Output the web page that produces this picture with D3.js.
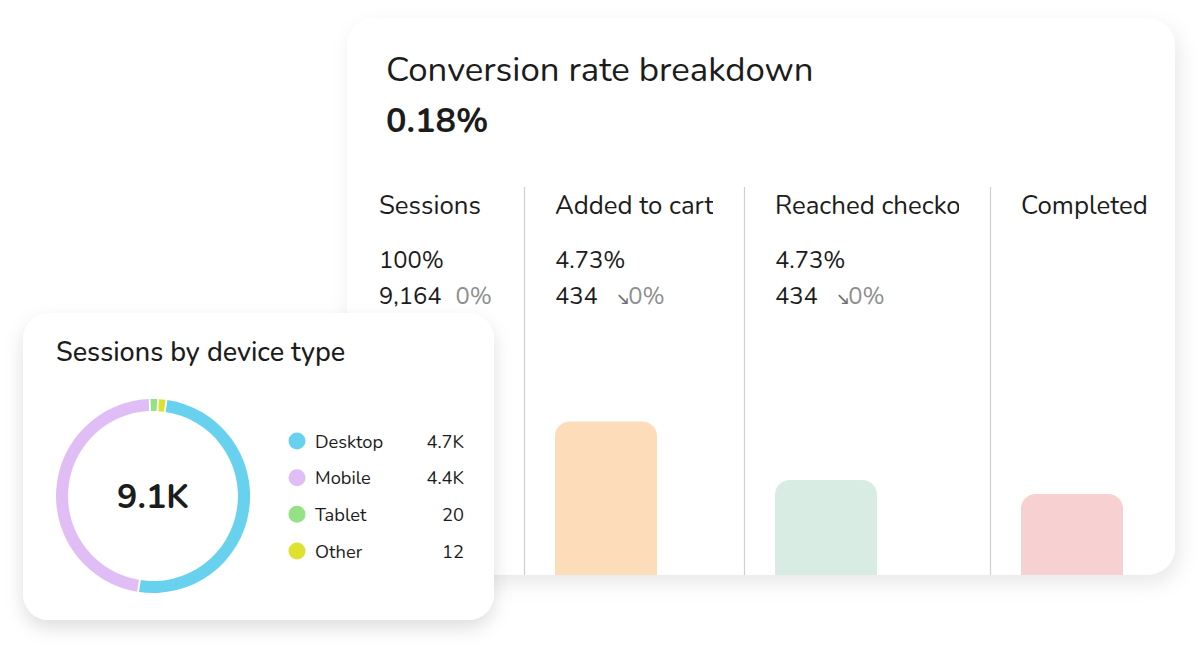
<!DOCTYPE html>
<html>
<head>
<meta charset="utf-8">
<script src="https://cdn.jsdelivr.net/npm/d3@7/dist/d3.min.js"></script>
<style>
  html, body { margin: 0; padding: 0; background: #ffffff; }
  svg { display: block; }
  text { font-family: "Nunito", "Lato", "Open Sans", sans-serif; fill: #1c1c1c; }
</style>
</head>
<body>
<svg id="chart" width="1200" height="667"></svg>
<script>
// ---------- data ----------
const funnelTitle = "Conversion rate breakdown";
const funnelTotal = "0.18%";
const funnelSteps = ["Sessions", "Added to cart", "Reached checkout", "Completed"];
const funnelRates = ["100%", "4.73%", "4.73%", null];
const funnelCounts = ["9,164", "434", "434", null];
const funnelChange = ["0%", "0%", "0%", null];
const funnelChangeArrow = [false, true, true, false];
const funnelBarValues = [100, 64, 39.6, 33.8];
const funnelBarColors = ["#fde0c0", "#fddcba", "#d8ece3", "#f7d0d1"];

const deviceTitle = "Sessions by device type";
const deviceCenter = "9.1K";
const devices = ["Desktop", "Mobile", "Tablet", "Other"];
const deviceSessions = [4720, 4412, 20, 12];
const deviceLabels = ["4.7K", "4.4K", "20", "12"];
const deviceColors = ["#68d2ee", "#e0bdf4", "#95e186", "#dde22e"];
const donutOrder = [2, 3, 0, 1]; // drawing order clockwise from top

// ---------- setup ----------
const svg = d3.select("#chart");
const defs = svg.append("defs");

const sh1 = defs.append("filter").attr("id", "shadowMain")
  .attr("x", "-10%").attr("y", "-10%").attr("width", "125%").attr("height", "130%");
sh1.append("feDropShadow").attr("dx", 4).attr("dy", 8).attr("stdDeviation", 10)
  .attr("flood-color", "#000").attr("flood-opacity", 0.09);

const sh2 = defs.append("filter").attr("id", "shadowSmall")
  .attr("x", "-15%").attr("y", "-15%").attr("width", "135%").attr("height", "140%");
sh2.append("feDropShadow").attr("dx", 0).attr("dy", 8).attr("stdDeviation", 9)
  .attr("flood-color", "#000").attr("flood-opacity", 0.13);

// ---------- main card ----------
const card = { x: 347, y: 18, w: 828, h: 557, r: 28 };
const colEdges = [348, 524, 744, 990, 1175];
const pad = 31;

defs.append("clipPath").attr("id", "mainClip")
  .append("rect").attr("x", card.x).attr("y", card.y).attr("width", card.w).attr("height", card.h)
  .attr("rx", card.r);

svg.append("rect").attr("x", card.x).attr("y", card.y).attr("width", card.w).attr("height", card.h)
  .attr("rx", card.r).attr("fill", "#fff").attr("filter", "url(#shadowMain)");

const main = svg.append("g").attr("clip-path", "url(#mainClip)");

main.append("text").attr("x", 386).attr("y", 81).attr("font-size", 34.8)
  .text(funnelTitle);
main.append("text").attr("x", 386).attr("y", 132).attr("font-size", 34.2)
  .attr("font-weight", 700).text(funnelTotal);

// column dividers
main.selectAll("line.div").data(colEdges.slice(1, 4)).join("line")
  .attr("class", "div")
  .attr("x1", d => d + 0.5).attr("x2", d => d + 0.5)
  .attr("y1", 187).attr("y2", card.y + card.h)
  .attr("stroke", "#cfcfcf").attr("stroke-width", 1.2);

// bars
const y = d3.scaleLinear().domain([0, 100]).range([card.y + card.h, 335]);
const barW = 102, br = 15;
function topRounded(x, yTop, w, yBottom, r) {
  const p = d3.path();
  p.moveTo(x, yBottom);
  p.lineTo(x, yTop + r);
  p.arcTo(x, yTop, x + r, yTop, r);
  p.lineTo(x + w - r, yTop);
  p.arcTo(x + w, yTop, x + w, yTop + r, r);
  p.lineTo(x + w, yBottom);
  p.closePath();
  return p.toString();
}
main.selectAll("path.bar").data(funnelBarValues).join("path")
  .attr("class", "bar")
  .attr("d", (d, i) => topRounded(colEdges[i] + pad, y(d), barW, y(0), br))
  .attr("fill", (d, i) => funnelBarColors[i]);

// column texts
funnelSteps.forEach((s, i) => {
  const x0 = colEdges[i] + pad;
  const isLast = i === funnelSteps.length - 1;
  const cw = isLast ? 200 : colEdges[i + 1] - colEdges[i] - 2 * pad;
  const cid = "colclip" + i;
  defs.append("clipPath").attr("id", cid)
    .append("rect").attr("x", x0 - 2).attr("y", 180).attr("width", cw + 2).attr("height", 140);
  const g = main.append("g").attr("clip-path", `url(#${cid})`);
  g.append("text").attr("x", x0).attr("y", 214).attr("font-size", 25.8).text(s);
  if (funnelRates[i]) {
    g.append("text").attr("x", x0).attr("y", 268).attr("font-size", 23.8).text(funnelRates[i]);
  }
  if (funnelCounts[i]) {
    const t = g.append("text").attr("x", x0).attr("y", 304).attr("font-size", 23.8);
    t.append("tspan").text(funnelCounts[i]);
    if (funnelChangeArrow[i]) {
      t.append("tspan").attr("dx", 20).attr("font-size", 14).attr("font-weight", 700)
        .attr("fill", "#6e6e6e").text("↘");
      t.append("tspan").attr("dx", 0).attr("fill", "#8e8e8e").text(funnelChange[i]);
    } else {
      t.append("tspan").attr("dx", 14).attr("fill", "#8e8e8e").text(funnelChange[i]);
    }
  }
});

// ---------- device card ----------
const sc = { x: 23, y: 313, w: 471, h: 307, r: 26 };
svg.append("rect").attr("x", sc.x).attr("y", sc.y).attr("width", sc.w).attr("height", sc.h)
  .attr("rx", sc.r).attr("fill", "#fff").attr("filter", "url(#shadowSmall)");

svg.append("text").attr("x", 56).attr("y", 361).attr("font-size", 27)
  .attr("font-weight", 500).text(deviceTitle);

const total = d3.sum(deviceSessions);
const minShare = 0.012;
const pieData = donutOrder.map(i => ({ i, v: Math.max(deviceSessions[i], total * minShare) }));
const pie = d3.pie().sort(null).value(d => d.v)
  .startAngle(-0.035).endAngle(-0.035 + 2 * Math.PI).padAngle(0.014);
const arc = d3.arc().innerRadius(85).outerRadius(97);

const donut = svg.append("g").attr("transform", "translate(153,496)");
donut.selectAll("path").data(pie(pieData)).join("path")
  .attr("d", arc).attr("fill", d => deviceColors[d.data.i]);
donut.append("text").attr("text-anchor", "middle").attr("y", 12).attr("font-size", 34)
  .attr("font-weight", 700).text(deviceCenter);

// legend
const ly = d3.scalePoint().domain(devices).range([441, 551]);
const leg = svg.append("g");
const rows = leg.selectAll("g").data(devices).join("g")
  .attr("transform", d => `translate(0,${ly(d)})`);
rows.append("circle").attr("cx", 297).attr("cy", 0).attr("r", 8.5)
  .attr("fill", (d, i) => deviceColors[i]);
rows.append("text").attr("x", 315).attr("y", 6.5).attr("font-size", 18.3).text(d => d);
rows.append("text").attr("x", 464).attr("y", 6.5).attr("font-size", 18.3)
  .attr("text-anchor", "end").text((d, i) => deviceLabels[i]);
</script>
</body>
</html>
